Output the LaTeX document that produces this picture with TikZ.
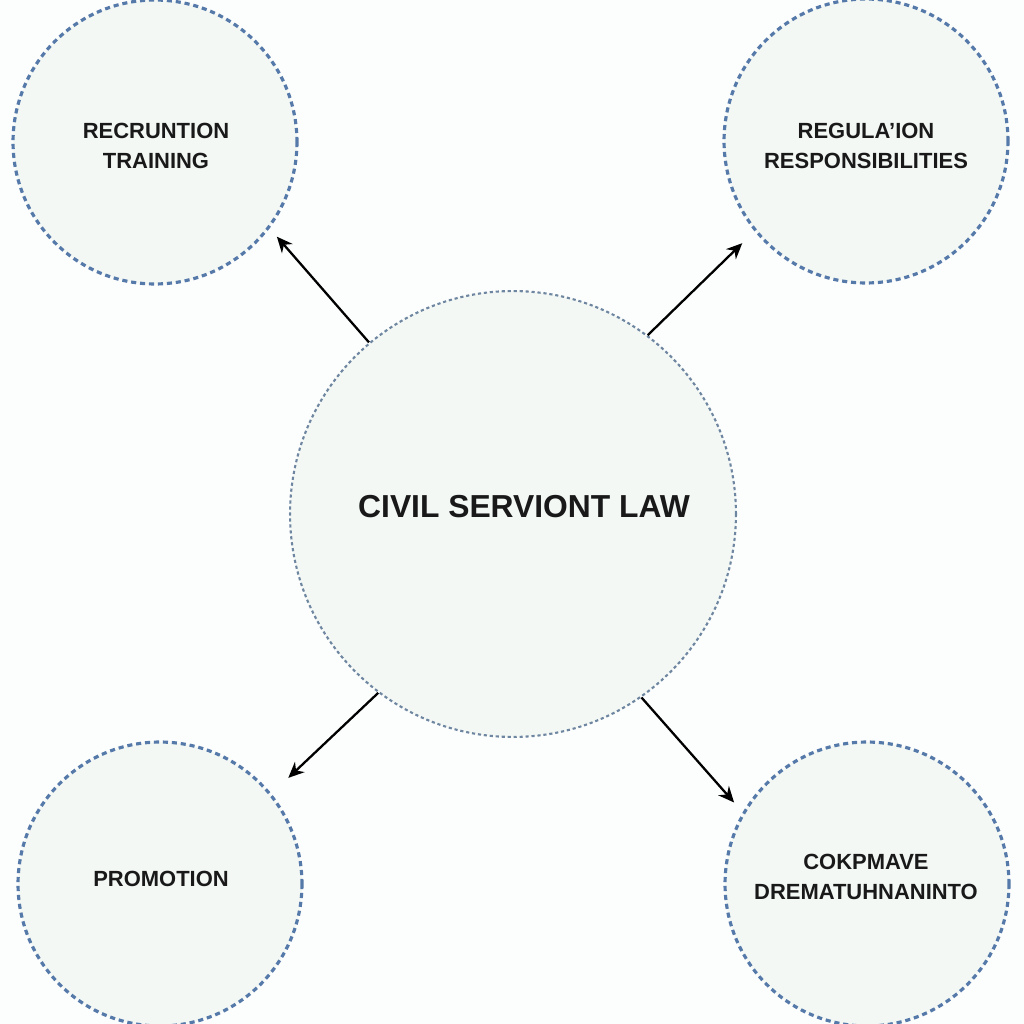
\documentclass[tikz,border=0pt]{standalone}
\usepackage{fontspec}
\setmainfont{Liberation Sans}
\usetikzlibrary{arrows.meta}
\definecolor{bgc}{HTML}{FCFDFD}
\definecolor{fillc}{HTML}{F3F8F5}
\definecolor{ringc}{HTML}{5579A8}
\definecolor{ringcc}{HTML}{6E86A0}
\tikzset{
  outer/.style={circle, draw=ringc, fill=fillc, line width=1.8pt,
    dash pattern=on 2.9pt off 2.2pt, minimum size=5.68cm, inner sep=0pt},
  inner/.style={circle, draw=ringcc, fill=fillc, line width=1.2pt,
    dash pattern=on 1.8pt off 1.6pt, minimum size=8.92cm, inner sep=0pt},
  lbl/.style={font=\fontsize{12.5}{17}\selectfont\bfseries, align=center, text=black!90},
  bigl/.style={font=\fontsize{18.1}{22}\selectfont\bfseries, text=black!90},
  arr/.style={-{Stealth[length=9pt,width=8pt]}, line width=1.3pt, black}
}
\begin{document}
\begin{tikzpicture}[x=0.02cm,y=-0.02cm]
\fill[bgc] (0,0) rectangle (1024,1024);
\clip (0,0) rectangle (1024,1024);
\node[outer] (tl) at (155,142) {};
\node[outer] (tr) at (866,141) {};
\node[outer] (bl) at (160,884) {};
\node[outer] (br) at (867,884) {};
\node[inner] (c) at (513,514) {};
\node[lbl] (tlt) at (156,146) {RECRUNTION\\TRAINING};
\node[lbl] (trt) at (866,146) {REGULA'ION\\RESPONSIBILITIES};
\node[lbl] (blt) at (161,879) {PROMOTION};
\node[lbl] (brt) at (866,877) {COKPMAVE\\DREMATUHNANINTO};
\node[bigl] (ct) at (524,507) {CIVIL SERVIONT LAW};
\draw[arr, shorten >=0.22cm] (c.130) -- (tl.-37);
\draw[arr, shorten >=0.34cm] (c.53) -- (tr.-141);
\draw[arr, shorten >=0.46cm] (c.-127) -- (bl.39);
\draw[arr, shorten >=0.26cm] (c.-55) -- (br.150);
\end{tikzpicture}
\end{document}
